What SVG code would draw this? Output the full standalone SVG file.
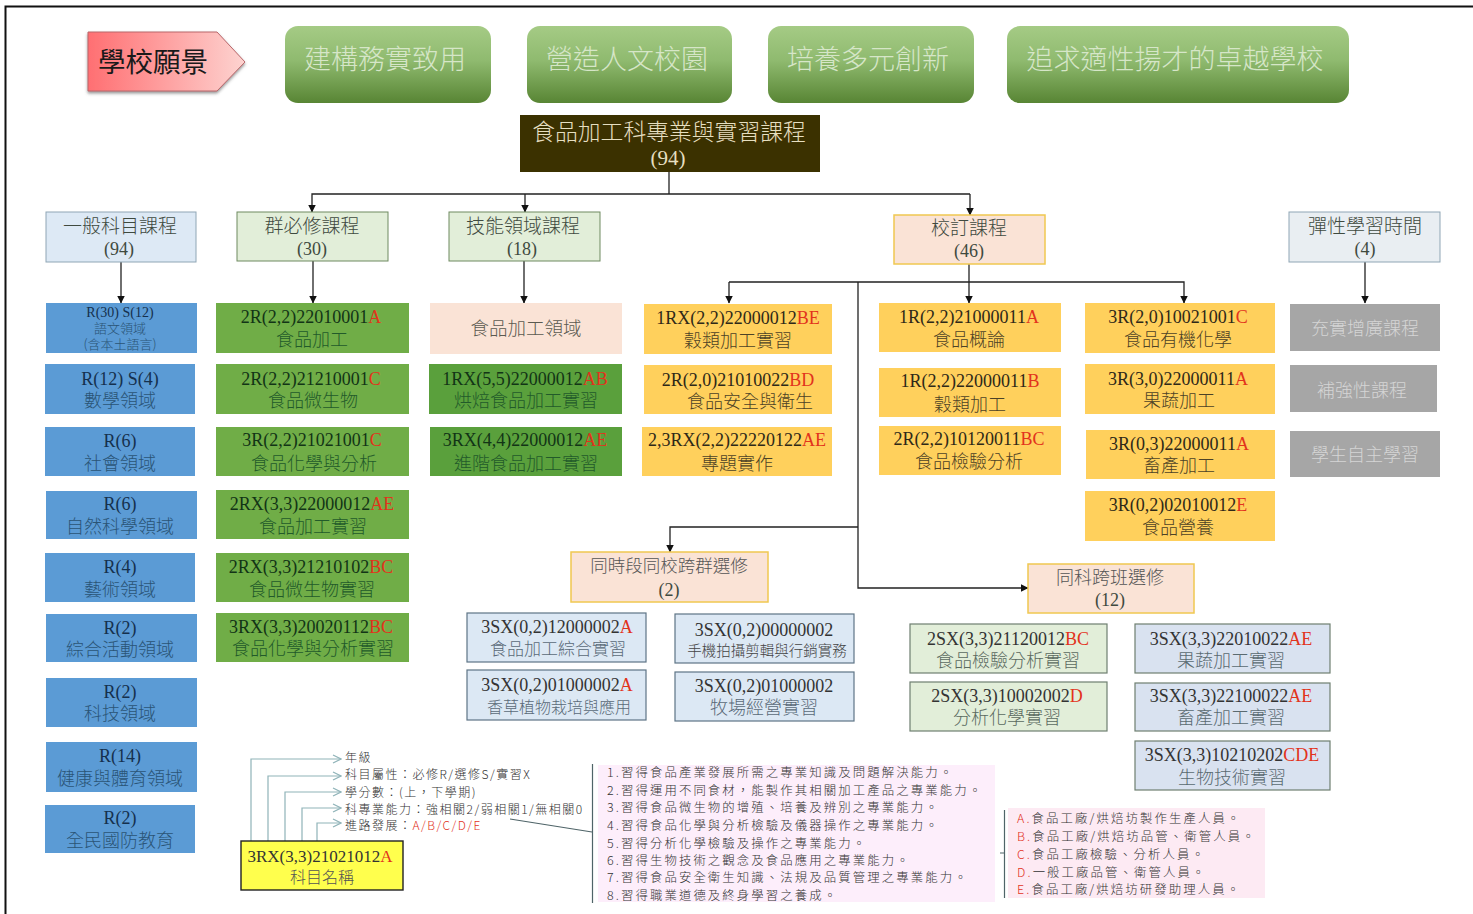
<svg xmlns="http://www.w3.org/2000/svg" width="1473" height="914" viewBox="0 0 1473 914">
<style>
text{font-family:"Liberation Serif","Noto Sans CJK TC",serif;text-anchor:middle;font-size:18px;fill:#3f4a3f}
.n{font-family:"Noto Sans CJK TC","Liberation Sans",sans-serif;font-weight:300}
.r{fill:#e2331c}
.vis{fill:url(#gv);stroke:none}
.vt{font-size:27px;fill:#d6e6c8}
.head{stroke:#8fa6b5;stroke-width:1}
.hb{fill:#dde9f5}.hg{fill:#e2eed9;stroke:#6f8a60}.ho{fill:#fae3d6;stroke:#f0c850;stroke-width:1.5}.hs{fill:#e9eef2}
.b{fill:#5b9bd5}.bt{fill:#15304d}.bn{fill:#2a5475}
.g{fill:#70ad47}.g2{fill:#5aa03c}.gt{fill:#123416}.gn{fill:#225a2a}
.y{fill:#ffd05c}.yt{fill:#2e2818}.yn{fill:#4d4226}
.gy{fill:#a6a6a6}.gyt{fill:#d5d5d5}
.lb{fill:#dce8f4;stroke:#5e7485;stroke-width:1.2}
.lg{fill:#e2eed9;stroke:#6e7f70;stroke-width:1.2}
.lv{fill:#d9e2f0;stroke:#6e7f70;stroke-width:1.2}
.c{fill:none;stroke:#222;stroke-width:1.3}
.cl{fill:none;stroke:#8fb3b8;stroke-width:1.2}
.leg{text-anchor:start;font-size:12px;letter-spacing:1.5px;fill:#333}
.o{text-anchor:start;font-size:12.4px;letter-spacing:2.1px;fill:#333}
.p{fill:#fdeefb}
</style>
<defs>
<linearGradient id="gv" x1="0" y1="0" x2="0" y2="1"><stop offset="0" stop-color="#a5cb85"/><stop offset="0.45" stop-color="#8fba6f"/><stop offset="1" stop-color="#588534"/></linearGradient>
<linearGradient id="gp" x1="0" y1="0" x2="1" y2="0"><stop offset="0" stop-color="#ff6f72"/><stop offset="1" stop-color="#fdd3d0"/></linearGradient>
<filter id="sh" x="-10%" y="-10%" width="120%" height="125%"><feDropShadow dx="0" dy="2" stdDeviation="1.5" flood-color="#555" flood-opacity="0.6"/></filter>
<marker id="a" markerUnits="userSpaceOnUse" markerWidth="8" markerHeight="8" refX="7.5" refY="4" orient="auto"><path d="M0 0L8 4L0 8Z" fill="#111"/></marker>
<marker id="al" markerUnits="userSpaceOnUse" markerWidth="10" markerHeight="10" refX="9" refY="5" orient="auto"><path d="M1 1L9 5L1 9" fill="none" stroke="#8fb3b8" stroke-width="1.2"/></marker>
</defs>
<rect width="1473" height="914" fill="#fff"/>
<path d="M5.5 914V6.5H1473" fill="none" stroke="#111" stroke-width="2"/>

<g id="connectors">
<path class="c" d="M669 172V194"/>
<path class="c" d="M970 194H312V212" marker-end="url(#a)"/>
<path class="c" d="M525 194V212" marker-end="url(#a)"/>
<path class="c" d="M970 194V215" marker-end="url(#a)"/>
<path class="c" d="M121 262V303" marker-end="url(#a)"/>
<path class="c" d="M313 261V303" marker-end="url(#a)"/>
<path class="c" d="M524 261V303" marker-end="url(#a)"/>
<path class="c" d="M969 264V303" marker-end="url(#a)"/>
<path class="c" d="M729 282H1184V303" marker-end="url(#a)"/>
<path class="c" d="M729 282V303" marker-end="url(#a)"/>
<path class="c" d="M858 282V588H1028" marker-end="url(#a)"/>
<path class="c" d="M858 527H670V552" marker-end="url(#a)"/>
<path class="c" d="M1365 262V303" marker-end="url(#a)"/>
<path class="cl" d="M251 841V759H341" marker-end="url(#al)"/>
<path class="cl" d="M268 841V776H341" marker-end="url(#al)"/>
<path class="cl" d="M285 841V792H341" marker-end="url(#al)"/>
<path class="cl" d="M302 841V808H341" marker-end="url(#al)"/>
<path class="cl" d="M317 841V823H341" marker-end="url(#al)"/>
<path d="M510 819L592 832M592.5 764V903M1000 853H1004M1004.5 810V898" fill="none" stroke="#4f6468" stroke-width="1.2"/>
</g>

<g id="vision"><path d="M88 32H217L245 62L217 91H88Z" fill="url(#gp)" stroke="#b9666a" filter="url(#sh)"/><text x="153" y="72" class="n" style="font-size:27.5px;font-weight:400;fill:#1a1a1a">學校願景</text></g>
<g id="v1"><rect class="vis" x="285" y="26" width="206" height="77" rx="13"/><text class="n vt" x="385" y="69">建構務實致用</text></g>
<g id="v2"><rect class="vis" x="527" y="26" width="205" height="77" rx="13"/><text class="n vt" x="627" y="69">營造人文校園</text></g>
<g id="v3"><rect class="vis" x="768" y="26" width="206" height="77" rx="13"/><text class="n vt" x="868" y="69">培養多元創新</text></g>
<g id="v4"><rect class="vis" x="1007" y="26" width="342" height="77" rx="13"/><text class="n vt" x="1175" y="69">追求適性揚才的卓越學校</text></g>

<g id="root"><rect x="520" y="115" width="300" height="57" fill="#3b3100"/><text class="n" x="669" y="140" style="font-size:22.8px;fill:#e6dfc0">食品加工科專業與實習課程</text><text x="668" y="165" style="font-size:21px;fill:#e6dfc0">(94)</text></g>

<g id="h1"><rect class="head hb" x="46" y="212" width="150" height="50"/><text class="n" x="120" y="233" style="font-size:19px">一般科目課程</text><text x="119" y="255">(94)</text></g>
<g id="h2"><rect class="head hg" x="237" y="212" width="151" height="49"/><text class="n" x="312" y="233" style="font-size:19px">群必修課程</text><text x="312" y="255">(30)</text></g>
<g id="h3"><rect class="head hg" x="449" y="212" width="151" height="49"/><text class="n" x="523" y="233" style="font-size:19px">技能領域課程</text><text x="522" y="255">(18)</text></g>
<g id="h4"><rect class="ho" x="894" y="215" width="151" height="49"/><text class="n" x="969" y="235" style="font-size:19px">校訂課程</text><text x="969" y="257">(46)</text></g>
<g id="h5"><rect class="head hs" x="1289" y="212" width="151" height="50"/><text class="n" x="1365" y="233" style="font-size:19px">彈性學習時間</text><text x="1365" y="255">(4)</text></g>

<g id="b1"><rect class="b" x="46" y="303" width="151" height="50"/><text class="bt" x="120" y="317" style="font-size:14px">R(30)  S(12)</text><text class="n bn" x="120" y="333" style="font-size:13px">語文領域</text><text class="n bn" x="120" y="349" style="font-size:13px">(含本土語言)</text></g>
<g id="b2"><rect class="b" x="45" y="364" width="150" height="50"/><text class="bt" x="120" y="385">R(12)  S(4)</text><text class="n bn" x="120" y="407">數學領域</text></g>
<g id="b3"><rect class="b" x="45" y="427" width="150" height="49"/><text class="bt" x="120" y="447">R(6)</text><text class="n bn" x="120" y="470">社會領域</text></g>
<g id="b4"><rect class="b" x="46" y="491" width="151" height="48"/><text class="bt" x="120" y="510">R(6)</text><text class="n bn" x="120" y="533">自然科學領域</text></g>
<g id="b5"><rect class="b" x="45" y="553" width="150" height="49"/><text class="bt" x="120" y="573">R(4)</text><text class="n bn" x="120" y="596">藝術領域</text></g>
<g id="b6"><rect class="b" x="46" y="614" width="151" height="48"/><text class="bt" x="120" y="634">R(2)</text><text class="n bn" x="120" y="656">綜合活動領域</text></g>
<g id="b7"><rect class="b" x="46" y="678" width="151" height="49"/><text class="bt" x="120" y="698">R(2)</text><text class="n bn" x="120" y="720">科技領域</text></g>
<g id="b8"><rect class="b" x="46" y="742" width="151" height="50"/><text class="bt" x="120" y="762">R(14)</text><text class="n bn" x="120" y="785">健康與體育領域</text></g>
<g id="b9"><rect class="b" x="45" y="805" width="150" height="48"/><text class="bt" x="120" y="824">R(2)</text><text class="n bn" x="120" y="847">全民國防教育</text></g>

<g id="g1"><rect class="g" x="216" y="303" width="193" height="50"/><text class="gt" x="311" y="323">2R(2,2)22010001<tspan class="r">A</tspan></text><text class="n gn" x="312" y="346">食品加工</text></g>
<g id="g2"><rect class="g" x="216" y="364" width="193" height="50"/><text class="gt" x="311" y="385">2R(2,2)21210001<tspan class="r">C</tspan></text><text class="n gn" x="313" y="407">食品微生物</text></g>
<g id="g3"><rect class="g" x="216" y="427" width="193" height="49"/><text class="gt" x="312" y="446">3R(2,2)21021001<tspan class="r">C</tspan></text><text class="n gn" x="314" y="470">食品化學與分析</text></g>
<g id="g4"><rect class="g" x="216" y="490" width="193" height="49"/><text class="gt" x="312" y="510">2RX(3,3)22000012<tspan class="r">AE</tspan></text><text class="n gn" x="313" y="533">食品加工實習</text></g>
<g id="g5"><rect class="g" x="216" y="553" width="193" height="49"/><text class="gt" x="311" y="573">2RX(3,3)21210102<tspan class="r">BC</tspan></text><text class="n gn" x="312" y="596">食品微生物實習</text></g>
<g id="g6"><rect class="g" x="216" y="613" width="193" height="49"/><text class="gt" x="311" y="633">3RX(3,3)20020112<tspan class="r">BC</tspan></text><text class="n gn" x="313" y="655">食品化學與分析實習</text></g>

<g id="s0"><rect x="430" y="303" width="192" height="51" fill="#fae3d6"/><text class="n" x="526" y="335" style="font-size:18.5px;fill:#5a5a50">食品加工領域</text></g>
<g id="s1"><rect class="g2" x="429" y="364" width="193" height="50"/><text class="gt" x="525" y="385">1RX(5,5)22000012<tspan class="r">AB</tspan></text><text class="n gn" x="526" y="407">烘焙食品加工實習</text></g>
<g id="s2"><rect class="g2" x="430" y="427" width="192" height="49"/><text class="gt" x="525" y="446">3RX(4,4)22000012<tspan class="r">AE</tspan></text><text class="n gn" x="526" y="470">進階食品加工實習</text></g>

<g id="y1"><rect class="y" x="644" y="304" width="188" height="50"/><text class="yt" x="738" y="324">1RX(2,2)22000012<tspan class="r">BE</tspan></text><text class="n yn" x="738" y="347">穀類加工實習</text></g>
<g id="y2"><rect class="y" x="644" y="365" width="188" height="49"/><text class="yt" x="738" y="386">2R(2,0)21010022<tspan class="r">BD</tspan></text><text class="n yn" x="750" y="408">食品安全與衛生</text></g>
<g id="y3"><rect class="y" x="642" y="427" width="190" height="49"/><text class="yt" x="737" y="446">2,3RX(2,2)22220122<tspan class="r">AE</tspan></text><text class="n yn" x="737" y="470">專題實作</text></g>

<g id="y4"><rect class="y" x="879" y="303" width="182" height="49"/><text class="yt" x="969" y="323">1R(2,2)21000011<tspan class="r">A</tspan></text><text class="n yn" x="969" y="346">食品概論</text></g>
<g id="y5"><rect class="y" x="879" y="368" width="182" height="49"/><text class="yt" x="970" y="387">1R(2,2)22000011<tspan class="r">B</tspan></text><text class="n yn" x="970" y="411">穀類加工</text></g>
<g id="y6"><rect class="y" x="879" y="426" width="182" height="49"/><text class="yt" x="969" y="445">2R(2,2)10120011<tspan class="r">BC</tspan></text><text class="n yn" x="969" y="468">食品檢驗分析</text></g>

<g id="y7"><rect class="y" x="1085" y="303" width="190" height="50"/><text class="yt" x="1178" y="323">3R(2,0)10021001<tspan class="r">C</tspan></text><text class="n yn" x="1178" y="346">食品有機化學</text></g>
<g id="y8"><rect class="y" x="1085" y="364" width="190" height="50"/><text class="yt" x="1178" y="385">3R(3,0)22000011<tspan class="r">A</tspan></text><text class="n yn" x="1179" y="407">果蔬加工</text></g>
<g id="y9"><rect class="y" x="1086" y="430" width="189" height="49"/><text class="yt" x="1179" y="450">3R(0,3)22000011<tspan class="r">A</tspan></text><text class="n yn" x="1179" y="472">畜產加工</text></g>
<g id="y10"><rect class="y" x="1085" y="491" width="190" height="50"/><text class="yt" x="1178" y="511">3R(0,2)02010012<tspan class="r">E</tspan></text><text class="n yn" x="1178" y="534">食品營養</text></g>

<g id="gy1"><rect class="gy" x="1290" y="304" width="150" height="47"/><text class="n gyt" x="1365" y="335">充實增廣課程</text></g>
<g id="gy2"><rect class="gy" x="1290" y="365" width="147" height="47"/><text class="n gyt" x="1362" y="397">補強性課程</text></g>
<g id="gy3"><rect class="gy" x="1290" y="431" width="150" height="46"/><text class="n gyt" x="1365" y="461">學生自主學習</text></g>

<g id="e0"><rect class="ho" x="571" y="552" width="197" height="50"/><text class="n" x="669" y="572" style="font-size:17.5px;fill:#555">同時段同校跨群選修</text><text x="669" y="596">(2)</text></g>
<g id="e1"><rect class="lb" x="467" y="613" width="179" height="49"/><text x="557" y="633" style="fill:#333">3SX(0,2)12000002<tspan class="r">A</tspan></text><text class="n" x="558" y="655" style="font-size:17px;fill:#5a6a78">食品加工綜合實習</text></g>
<g id="e2"><rect class="lb" x="467" y="670" width="179" height="50"/><text x="557" y="691" style="fill:#333">3SX(0,2)01000002<tspan class="r">A</tspan></text><text class="n" x="559" y="713" style="font-size:16px;fill:#5a6a78">香草植物栽培與應用</text></g>
<g id="e3"><rect class="lb" x="675" y="614" width="179" height="49"/><text x="764" y="636" style="fill:#333">3SX(0,2)00000002</text><text class="n" x="767" y="656" style="font-size:14.5px;fill:#444">手機拍攝剪輯與行銷實務</text></g>
<g id="e4"><rect class="lb" x="675" y="672" width="179" height="49"/><text x="764" y="692" style="fill:#333">3SX(0,2)01000002</text><text class="n" x="764" y="714" style="fill:#5a6a78">牧場經營實習</text></g>

<g id="f0"><rect class="ho" x="1028" y="564" width="166" height="49"/><text class="n" x="1110" y="584" style="fill:#555">同科跨班選修</text><text x="1110" y="606">(12)</text></g>
<g id="f1"><rect class="lg" x="910" y="624" width="197" height="49"/><text x="1008" y="645" style="fill:#333">2SX(3,3)21120012<tspan class="r">BC</tspan></text><text class="n" x="1008" y="667" style="fill:#5a6a60">食品檢驗分析實習</text></g>
<g id="f2"><rect class="lg" x="910" y="682" width="197" height="49"/><text x="1007" y="702" style="fill:#333">2SX(3,3)10002002<tspan class="r">D</tspan></text><text class="n" x="1007" y="724" style="fill:#5a6a60">分析化學實習</text></g>
<g id="f3"><rect class="lv" x="1135" y="624" width="195" height="49"/><text x="1231" y="645" style="fill:#333">3SX(3,3)22010022<tspan class="r">AE</tspan></text><text class="n" x="1231" y="667" style="fill:#5a6a70">果蔬加工實習</text></g>
<g id="f4"><rect class="lv" x="1135" y="683" width="195" height="48"/><text x="1231" y="702" style="fill:#333">3SX(3,3)22100022<tspan class="r">AE</tspan></text><text class="n" x="1231" y="724" style="fill:#5a6a70">畜產加工實習</text></g>
<g id="f5"><rect class="lv" x="1135" y="741" width="195" height="49"/><text x="1232" y="761" style="fill:#333">3SX(3,3)10210202<tspan class="r">CDE</tspan></text><text class="n" x="1232" y="784" style="fill:#5a6a70">生物技術實習</text></g>

<g id="legend"><rect x="241" y="841" width="162" height="49" fill="#ffff4d" stroke="#222" stroke-width="1.4"/><text x="320" y="862" style="font-size:17px;fill:#333">3RX(3,3)21021012<tspan class="r">A</tspan></text><text class="n" x="322" y="883" style="font-size:16px;fill:#555">科目名稱</text>
<text class="n leg" x="345" y="762">年級</text>
<text class="n leg" x="345" y="779">科目屬性：必修R/選修S/實習X</text>
<text class="n leg" x="345" y="797">學分數：(上，下學期)</text>
<text class="n leg" x="345" y="814">科專業能力：強相關2/弱相關1/無相關0</text>
<text class="n leg" x="345" y="830">進路發展：<tspan class="r">A/B/C/D/E</tspan></text></g>

<g id="outcomes"><rect class="p" x="598" y="765" width="397" height="137"/>
<text class="n o" x="607" y="777">1.習得食品產業發展所需之專業知識及問題解決能力。</text>
<text class="n o" x="607" y="795">2.習得運用不同食材，能製作其相關加工產品之專業能力。</text>
<text class="n o" x="607" y="812">3.習得食品微生物的增殖、培養及辨別之專業能力。</text>
<text class="n o" x="607" y="830">4.習得食品化學與分析檢驗及儀器操作之專業能力。</text>
<text class="n o" x="607" y="848">5.習得分析化學檢驗及操作之專業能力。</text>
<text class="n o" x="607" y="865">6.習得生物技術之觀念及食品應用之專業能力。</text>
<text class="n o" x="607" y="882">7.習得食品安全衛生知識、法規及品質管理之專業能力。</text>
<text class="n o" x="607" y="900">8.習得職業道德及終身學習之養成。</text></g>

<g id="careers"><rect class="p" x="1008" y="808" width="257" height="90" style="fill:#fdeaf3"/>
<text class="n o" x="1017" y="823"><tspan class="r">A.</tspan>食品工廠/烘焙坊製作生產人員。</text>
<text class="n o" x="1017" y="841"><tspan class="r">B.</tspan>食品工廠/烘焙坊品管、衛管人員。</text>
<text class="n o" x="1017" y="859"><tspan class="r">C.</tspan>食品工廠檢驗、分析人員。</text>
<text class="n o" x="1017" y="877"><tspan class="r">D.</tspan>一般工廠品管、衛管人員。</text>
<text class="n o" x="1017" y="894"><tspan class="r">E.</tspan>食品工廠/烘焙坊研發助理人員。</text></g>
</svg>
